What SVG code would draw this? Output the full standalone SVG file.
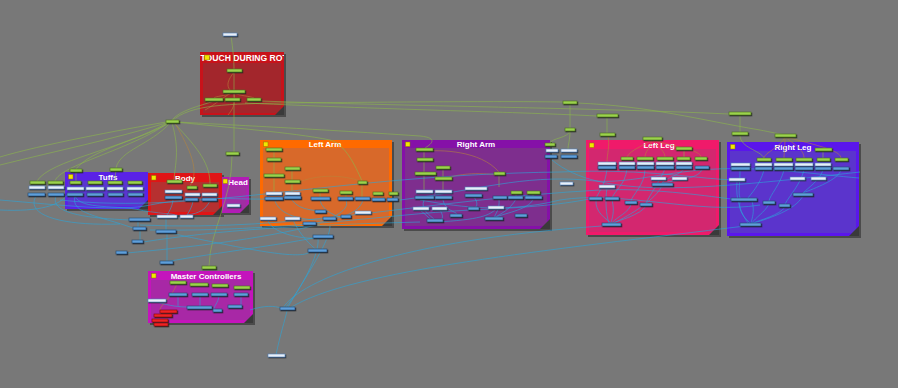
<svg xmlns="http://www.w3.org/2000/svg" width="898" height="388" viewBox="0 0 898 388">
<defs>
<style>
.bg{fill:#787878}
.shd{fill:#3c3c3c;opacity:.75}
.tri{fill:#3a3a3a}
.ysq{fill:#f2e600;stroke:#8a7a00;stroke-width:.5}
.ttl{font-family:"Liberation Sans",Arial,sans-serif;font-weight:bold;font-size:8px;fill:#fff;text-anchor:middle}
.g rect{fill:#9bd24d;stroke:#4a6e1a;stroke-width:.6}
.b rect{fill:#5e9fda;stroke:#24466e;stroke-width:.6}
.w rect{fill:#e9eff8;stroke:#4f7fb8;stroke-width:.6}
.r rect{fill:#f02222;stroke:#7a0a0a;stroke-width:.6}
.cg{fill:none;stroke:#8cb84a;stroke-width:.7;opacity:.85}
.cbr{fill:none;stroke:#b8843a;stroke-width:.7;opacity:.8}
.cb{fill:none;stroke:#2aa6da;stroke-width:.7;opacity:.85}
</style>
<filter id="ds" x="-10%" y="-10%" width="130%" height="140%"><feDropShadow dx="0.8" dy="1" stdDeviation="0" flood-color="#1e1e1e" flood-opacity="0.9"/></filter>
<clipPath id="ctouch"><rect x="200" y="52" width="84" height="11"/></clipPath>
</defs>
<rect class="bg" x="0" y="0" width="898" height="388"/>

<g id="frames">
<g id="f-touch">
<rect class="shd" x="202" y="54" width="84" height="63"/>
<rect x="200" y="52" width="84" height="63" fill="#c8121a"/>
<rect x="203" y="63" width="78" height="50" fill="#a3262c"/>
<polygon class="tri" points="284,106 284,115 275,115"/>
<text class="ttl" x="200.5" y="61" style="text-anchor:start;font-size:8.6px" clip-path="url(#ctouch)">TOUCH DURING ROT</text>
<rect class="ysq" x="204.5" y="55" width="5" height="5"/>
</g>
<g id="f-tuffs">
<rect class="shd" x="67" y="174" width="83" height="37"/>
<rect x="65" y="172" width="83" height="37" fill="#5a22e6"/>
<rect x="68" y="181" width="77" height="25" fill="#5a36cf"/>
<polygon class="tri" points="148,200 148,209 139,209"/>
<text class="ttl" x="108" y="180">Tuffs</text>
<rect class="ysq" x="68.5" y="174.5" width="4.5" height="4.5"/>
</g>
<g id="f-body">
<rect class="shd" x="150" y="175" width="74" height="42"/>
<rect x="148" y="173" width="74" height="42" fill="#e01416"/>
<rect x="151" y="182" width="68" height="30" fill="#b63030"/>
<polygon class="tri" points="222,206 222,215 213,215"/>
<text class="ttl" x="185" y="181">Body</text>
<rect class="ysq" x="151.5" y="175.5" width="4.5" height="4.5"/>
</g>
<g id="f-head">
<rect class="shd" x="224" y="179" width="27" height="36"/>
<rect x="222" y="177" width="27" height="36" fill="#b21cb6"/>
<rect x="224.5" y="186" width="22" height="24" fill="#a02ea2"/>
<polygon class="tri" points="249,204 249,213 240,213"/>
<text class="ttl" x="238" y="185">Head</text>
<rect class="ysq" x="223" y="179" width="4.5" height="4.5"/>
</g>
<g id="f-leftarm">
<rect class="shd" x="262" y="142" width="132" height="86"/>
<rect x="260" y="140" width="132" height="86" fill="#ff6a00"/>
<rect x="263" y="148" width="126" height="75.5" fill="#d8692a"/>
<polygon class="tri" points="392,216 392,226 382,226"/>
<text class="ttl" x="325" y="147">Left Arm</text>
<rect class="ysq" x="263.5" y="142" width="4.5" height="4.5"/>
</g>
<g id="f-rightarm">
<rect class="shd" x="404" y="142" width="148" height="89"/>
<rect x="402" y="140" width="148" height="89" fill="#8510a8"/>
<rect x="405" y="148" width="142" height="78" fill="#7e2e8e"/>
<polygon class="tri" points="550,219 550,229 540,229"/>
<text class="ttl" x="476" y="147">Right Arm</text>
<rect class="ysq" x="405.5" y="142" width="4.5" height="4.5"/>
</g>
<g id="f-leftleg">
<rect class="shd" x="588" y="142" width="133" height="95"/>
<rect x="586" y="140" width="133" height="95" fill="#f01a6a"/>
<rect x="589" y="149" width="127" height="83" fill="#d3276f"/>
<polygon class="tri" points="719,225 719,235 709,235"/>
<text class="ttl" x="659" y="147.5">Left Leg</text>
<rect class="ysq" x="589.5" y="143" width="4.5" height="4.5"/>
</g>
<g id="f-rightleg">
<rect class="shd" x="729" y="144" width="132" height="94"/>
<rect x="727" y="142" width="132" height="94" fill="#5a16ec"/>
<rect x="730" y="151" width="126" height="82" fill="#5b34cc"/>
<polygon class="tri" points="859,226 859,236 849,236"/>
<text class="ttl" x="793" y="149.5">Right Leg</text>
<rect class="ysq" x="730.5" y="144.5" width="4.5" height="4.5"/>
</g>
<g id="f-master">
<rect class="shd" x="150" y="273" width="105" height="52"/>
<rect x="148" y="271" width="105" height="52" fill="#c414bc"/>
<rect x="151" y="280" width="99" height="40" fill="#a828a6"/>
<polygon class="tri" points="253,314 253,323 244,323"/>
<text class="ttl" x="206" y="278.5">Master Controllers</text>
<rect class="ysq" x="151.5" y="273.5" width="4.5" height="4.5"/>
</g>
</g>

<g id="connectors">
<path class="cg" d="M231,36 C233,50 234,60 234,70"/>
<path class="cg" d="M234,73 V152"/>
<path class="cg" d="M232,156 C232,200 210,230 209,266"/>
<path class="cg" d="M172,121 C190,104 230,104 284,103 C400,102 500,101 563,102"/>
<path class="cg" d="M260,101 C400,106 600,108 729,114"/>
<path class="cg" d="M577,103 C650,106 700,120 760,130 C770,132 780,134 785,135"/>
<path class="cg" d="M245,103 C400,110 520,112 597,116"/>
<path class="cg" d="M166,122 C120,130 40,145 0,157"/>
<path class="cg" d="M166,123 C110,140 60,150 0,165"/>
<path class="cg" d="M167,123 C120,150 50,160 37,181"/>
<path class="cg" d="M168,123 C130,150 60,165 55,181"/>
<path class="cg" d="M169,123 C140,140 90,150 76,169"/>
<path class="cg" d="M170,123 C150,145 120,150 116,168"/>
<path class="cg" d="M172,123 C180,150 175,165 174,180"/>
<path class="cg" d="M174,123 C200,150 210,165 210,184"/>
<path class="cg" d="M176,122 C230,128 290,132 330,140 C345,144 355,165 362,181"/>
<path class="cg" d="M178,122 C230,125 300,128 420,136 C440,138 430,145 425,148"/>
<path class="cg" d="M172,120 C180,110 200,106 214,101"/>
<path class="cg" d="M76,172 C76,175 76,178 76,181"/>
<path class="cg" d="M116,171 C115,175 115,178 115,181"/>
<path class="cg" d="M570,104 V128"/>
<path class="cg" d="M570,131 C568,138 552,138 550,143"/>
<path class="cg" d="M570,131 C570,140 568,145 568,149"/>
<path class="cg" d="M607,117 V133"/>
<path class="cg" d="M740,115 V132"/>
<path class="cg" d="M740,135 C740,148 760,150 764,158"/>
<path class="cg" d="M823,151 V158"/>
<path class="cg" d="M684,150 V157"/>
<path class="cg" d="M274,151 V158 M274,161 V174 M292,170 V180 M292,183 V192 M274,177 V192 M320,192 V197 M346,194 V197 M362,184 V197"/>
<path class="cg" d="M424,151 V158 M424,161 V172 M443,169 V177 M443,180 V190 M424,175 V190 M499,175 V187 M516,194 V196 M533,194 V196"/>
<path class="cbr" d="M234,72 C228,80 226,85 230,90"/>
<path class="cbr" d="M232,93 C225,96 216,96 214,98"/>
<path class="cbr" d="M234,93 C240,96 250,96 254,98"/>
<path class="cbr" d="M234,93 C236,105 232,110 228,115"/>
<path class="cbr" d="M205,110 C215,105 225,95 234,92"/>
<path class="cbr" d="M652,140 C645,145 630,150 627,157"/>
<path class="cbr" d="M652,140 C650,148 645,152 645,157"/>
<path class="cbr" d="M652,140 C660,148 665,152 665,157"/>
<path class="cbr" d="M652,140 C680,148 700,150 701,157"/>
<path class="cbr" d="M608,136 C610,145 607,155 607,162"/>
<path class="cbr" d="M785,137 C780,148 765,152 764,158"/>
<path class="cbr" d="M785,137 C785,148 784,152 784,158"/>
<path class="cbr" d="M785,137 C800,148 804,152 804,158"/>
<path class="cbr" d="M785,137 C830,148 840,152 841,158"/>
<path class="cbr" d="M299,182 C330,170 360,180 365,183"/>
<path class="cbr" d="M443,179 C470,170 495,175 499,175"/>
<path class="cbr" d="M425,151 C440,150 480,150 499,172"/>
<path class="cbr" d="M175,123 C190,150 200,170 190,186"/>
<path class="cbr" d="M177,284 C170,300 160,305 160,310"/>
<path class="cb" d="M36,196 C25,215 60,226 120,224"/>
<path class="cb" d="M56,196 C50,212 80,218 130,220"/>
<path class="cb" d="M75,196 C70,214 100,216 133,228"/>
<path class="cb" d="M0,200 C60,205 120,212 150,205 C200,195 250,200 265,199"/>
<path class="cb" d="M60,200 C200,215 330,175 560,172 C650,168 700,180 740,180"/>
<path class="cb" d="M140,225 C300,232 420,200 600,190 C650,188 700,195 731,199"/>
<path class="cb" d="M150,230 C280,232 380,215 470,210 C520,208 560,205 589,199"/>
<path class="cb" d="M283,308 C300,280 400,240 602,226"/>
<path class="cb" d="M290,308 C350,270 550,250 745,226"/>
<path class="cb" d="M286,307 C300,290 320,255 318,238"/>
<path class="cb" d="M288,307 C310,270 330,240 330,226"/>
<path class="cb" d="M276,355 C280,335 285,320 287,311"/>
<path class="cb" d="M170,233 C250,250 300,260 310,252"/>
<path class="cb" d="M160,263 C200,255 280,245 313,238"/>
<path class="cb" d="M127,253 C180,248 260,240 320,224"/>
<path class="cb" d="M143,242 C220,230 300,225 420,222"/>
<path class="cb" d="M250,310 C265,305 275,306 281,308"/>
<path class="cb" d="M138,221 V228 M166,218 V230 M167,233 V262 M140,230 V240"/>
<path class="cb" d="M400,200 C480,190 520,175 586,180 C620,185 650,175 700,170 C760,165 820,175 859,178"/>
<path class="cb" d="M552,160 C600,200 700,190 860,172"/>
<path class="cb" d="M420,200 C450,205 500,215 560,200 C620,190 700,215 760,205"/>
<path class="cb" d="M275,201 C280,215 300,220 322,220"/>
<path class="cb" d="M292,200 C300,212 320,210 328,212"/>
<path class="cb" d="M320,200 C322,212 340,218 346,218"/>
<path class="cb" d="M346,200 C350,210 335,215 330,219"/>
<path class="cb" d="M363,200 C360,210 350,218 309,224"/>
<path class="cb" d="M268,220 C270,232 300,240 320,238"/>
<path class="cb" d="M293,220 C300,235 310,245 318,251"/>
<path class="cb" d="M424,200 C420,210 430,215 435,220"/>
<path class="cb" d="M443,200 C445,212 460,212 456,215"/>
<path class="cb" d="M474,197 C480,205 475,208 474,208"/>
<path class="cb" d="M499,199 C500,210 495,214 494,218"/>
<path class="cb" d="M516,199 C510,210 500,214 494,218"/>
<path class="cb" d="M533,199 C530,210 500,214 494,218"/>
<path class="cb" d="M420,210 C430,218 432,222 435,222"/>
<path class="cb" d="M440,210 C445,218 442,221 435,222"/>
<path class="cb" d="M496,209 C490,215 480,220 435,222"/>
<path class="cb" d="M607,169 C605,185 600,190 596,198"/>
<path class="cb" d="M627,169 C625,185 615,190 612,198"/>
<path class="cb" d="M645,169 C645,185 632,195 631,201"/>
<path class="cb" d="M665,169 C660,180 650,195 646,203"/>
<path class="cb" d="M684,169 C680,175 665,178 662,183"/>
<path class="cb" d="M702,169 C700,178 680,180 662,183"/>
<path class="cb" d="M596,200 C595,212 605,218 611,223"/>
<path class="cb" d="M612,200 C615,212 612,218 611,223"/>
<path class="cb" d="M631,204 C630,212 615,218 612,223"/>
<path class="cb" d="M646,206 C640,215 620,220 613,223"/>
<path class="cb" d="M662,186 C655,200 630,215 614,223"/>
<path class="cb" d="M607,188 C605,200 606,215 609,223"/>
<path class="cb" d="M740,170 C740,185 738,192 740,198"/>
<path class="cb" d="M764,170 C760,185 750,195 748,198"/>
<path class="cb" d="M784,170 C780,185 770,195 769,201"/>
<path class="cb" d="M804,170 C800,185 790,195 785,204"/>
<path class="cb" d="M823,170 C820,180 808,188 803,193"/>
<path class="cb" d="M841,170 C838,180 815,188 803,193"/>
<path class="cb" d="M740,201 C738,212 745,218 750,223"/>
<path class="cb" d="M752,201 C755,212 752,218 751,223"/>
<path class="cb" d="M769,204 C765,212 755,218 752,223"/>
<path class="cb" d="M785,207 C780,215 760,220 753,223"/>
<path class="cb" d="M803,196 C795,210 770,218 754,223"/>
<path class="cb" d="M737,181 C735,200 742,215 748,223"/>
<path class="cb" d="M178,296 V306 M200,296 V306 M219,296 C218,303 214,306 214,309 M241,296 V305"/>
<path class="cb" d="M157,302 C170,306 180,307 187,307"/>
<path class="cb" d="M0,210 C40,212 60,205 67,195"/>
<path class="cb" d="M173,200 C172,208 168,213 167,215"/>
<path class="cb" d="M193,201 C192,208 188,213 187,215"/>
<path class="cb" d="M210,201 C205,210 200,213 187,215"/>
<path class="cb" d="M75,196 C80,210 120,205 140,210 C160,214 170,213 175,215"/>
</g>

<g id="nodes" filter="url(#ds)">
<g id="n-top" class="w"><rect x="223" y="33" width="14" height="3"/></g>
<g id="n-bottom" class="w"><rect x="268" y="354" width="17" height="3"/></g>
<g id="t1" class="g"><rect x="227" y="69" width="15" height="3"/></g>
<g id="t2" class="g"><rect x="223" y="90" width="22" height="3"/></g>
<g id="t3" class="g"><rect x="205" y="98" width="18" height="3"/></g>
<g id="t4" class="g"><rect x="225" y="98" width="15" height="3"/></g>
<g id="t5" class="g"><rect x="247" y="98" width="14" height="3"/></g>
<g id="h1" class="g"><rect x="166" y="120" width="13" height="3"/></g>
<g id="h2" class="g"><rect x="226" y="152" width="13" height="3"/></g>
<g id="h3" class="g"><rect x="110" y="168" width="12" height="3"/></g>
<g id="h4" class="g"><rect x="70" y="169" width="12" height="3"/></g>
<g id="h5" class="g"><rect x="202" y="266" width="14" height="3"/></g>
<g id="r1" class="g"><rect x="563" y="101" width="14" height="3"/></g>
<g id="r2" class="g"><rect x="565" y="128" width="10" height="3"/></g>
<g id="r3" class="g"><rect x="597" y="114" width="21" height="3"/></g>
<g id="r4" class="g"><rect x="600" y="133" width="15" height="3"/></g>
<g id="r5" class="g"><rect x="643" y="137" width="19" height="3"/></g>
<g id="r6" class="g"><rect x="676" y="147" width="16" height="3"/></g>
<g id="r7" class="g"><rect x="729" y="112" width="22" height="3"/></g>
<g id="r8" class="g"><rect x="732" y="132" width="16" height="3"/></g>
<g id="r9" class="g"><rect x="775" y="134" width="21" height="3"/></g>
<g id="r10" class="g"><rect x="545" y="143" width="10" height="3"/></g>
<g id="l1" class="g"><rect x="30" y="181" width="15" height="3"/></g>
<g id="l2" class="g"><rect x="48" y="181" width="15" height="3"/></g>
<g id="l3" class="w"><rect x="29" y="186" width="16" height="3"/></g>
<g id="l4" class="w"><rect x="48" y="186" width="16" height="3"/></g>
<g id="l5" class="b"><rect x="28" y="193" width="17" height="3"/></g>
<g id="l6" class="b"><rect x="48" y="193" width="16" height="3"/></g>
<g id="tu1" class="g"><rect x="70" y="181" width="11" height="3"/></g>
<g id="tu2" class="g"><rect x="88" y="181" width="14" height="3"/></g>
<g id="tu3" class="g"><rect x="108" y="181" width="14" height="3"/></g>
<g id="tu4" class="g"><rect x="128" y="181" width="14" height="3"/></g>
<g id="tu5" class="w"><rect x="67" y="187" width="17" height="3"/></g>
<g id="tu6" class="w"><rect x="86" y="187" width="18" height="3"/></g>
<g id="tu7" class="w"><rect x="107" y="187" width="16" height="3"/></g>
<g id="tu8" class="w"><rect x="127" y="187" width="16" height="3"/></g>
<g id="tu9" class="b"><rect x="67" y="193" width="16" height="3"/></g>
<g id="tu10" class="b"><rect x="87" y="193" width="16" height="3"/></g>
<g id="tu11" class="b"><rect x="108" y="193" width="15" height="3"/></g>
<g id="tu12" class="b"><rect x="128" y="193" width="15" height="3"/></g>
<g id="bo1" class="g"><rect x="167" y="180" width="15" height="3"/></g>
<g id="bo2" class="g"><rect x="187" y="186" width="10" height="3"/></g>
<g id="bo3" class="g"><rect x="203" y="184" width="14" height="3"/></g>
<g id="bo4" class="w"><rect x="165" y="190" width="17" height="3"/></g>
<g id="bo5" class="w"><rect x="185" y="193" width="15" height="3"/></g>
<g id="bo6" class="w"><rect x="202" y="193" width="15" height="3"/></g>
<g id="bo7" class="b"><rect x="165" y="196" width="17" height="3"/></g>
<g id="bo8" class="b"><rect x="185" y="198" width="13" height="3"/></g>
<g id="bo9" class="b"><rect x="202" y="198" width="15" height="3"/></g>
<g id="bo10" class="w"><rect x="157" y="215" width="20" height="3"/></g>
<g id="bo11" class="w"><rect x="180" y="215" width="13" height="3"/></g>
<g id="he1" class="w"><rect x="227" y="204" width="13" height="3"/></g>
<g id="la1" class="g"><rect x="266" y="148" width="16" height="3"/></g>
<g id="la2" class="g"><rect x="267" y="158" width="14" height="3"/></g>
<g id="la3" class="g"><rect x="285" y="167" width="15" height="3"/></g>
<g id="la4" class="g"><rect x="264" y="174" width="20" height="3"/></g>
<g id="la5" class="g"><rect x="285" y="180" width="15" height="3"/></g>
<g id="la6" class="g"><rect x="358" y="181" width="9" height="3"/></g>
<g id="la7" class="g"><rect x="313" y="189" width="15" height="3"/></g>
<g id="la8" class="g"><rect x="340" y="191" width="12" height="3"/></g>
<g id="la9" class="g"><rect x="373" y="192" width="10" height="3"/></g>
<g id="la10" class="g"><rect x="389" y="192" width="9" height="3"/></g>
<g id="la11" class="w"><rect x="266" y="192" width="16" height="3"/></g>
<g id="la12" class="w"><rect x="285" y="192" width="15" height="3"/></g>
<g id="la13" class="b"><rect x="265" y="197" width="18" height="3"/></g>
<g id="la14" class="b"><rect x="284" y="196" width="17" height="3"/></g>
<g id="la15" class="b"><rect x="311" y="197" width="19" height="3"/></g>
<g id="la16" class="b"><rect x="338" y="197" width="15" height="3"/></g>
<g id="la17" class="b"><rect x="355" y="197" width="15" height="3"/></g>
<g id="la18" class="b"><rect x="372" y="198" width="13" height="3"/></g>
<g id="la19" class="b"><rect x="387" y="198" width="11" height="3"/></g>
<g id="la20" class="b"><rect x="315" y="210" width="11" height="3"/></g>
<g id="la21" class="w"><rect x="260" y="217" width="16" height="3"/></g>
<g id="la22" class="w"><rect x="285" y="217" width="15" height="3"/></g>
<g id="la23" class="b"><rect x="323" y="217" width="13" height="3"/></g>
<g id="la24" class="b"><rect x="341" y="215" width="10" height="3"/></g>
<g id="la25" class="w"><rect x="355" y="211" width="16" height="3"/></g>
<g id="la26" class="b"><rect x="303" y="222" width="13" height="3"/></g>
<g id="ra1" class="g"><rect x="416" y="148" width="17" height="3"/></g>
<g id="ra2" class="g"><rect x="417" y="158" width="16" height="3"/></g>
<g id="ra3" class="g"><rect x="436" y="166" width="14" height="3"/></g>
<g id="ra4" class="g"><rect x="415" y="172" width="21" height="3"/></g>
<g id="ra5" class="g"><rect x="435" y="177" width="17" height="3"/></g>
<g id="ra6" class="g"><rect x="494" y="172" width="11" height="3"/></g>
<g id="ra7" class="g"><rect x="511" y="191" width="11" height="3"/></g>
<g id="ra8" class="g"><rect x="527" y="191" width="13" height="3"/></g>
<g id="ra9" class="w"><rect x="416" y="190" width="17" height="3"/></g>
<g id="ra10" class="w"><rect x="435" y="190" width="17" height="3"/></g>
<g id="ra11" class="w"><rect x="465" y="187" width="22" height="3"/></g>
<g id="ra12" class="b"><rect x="415" y="196" width="19" height="3"/></g>
<g id="ra13" class="b"><rect x="435" y="196" width="17" height="3"/></g>
<g id="ra14" class="b"><rect x="465" y="194" width="17" height="3"/></g>
<g id="ra15" class="b"><rect x="493" y="196" width="14" height="3"/></g>
<g id="ra16" class="b"><rect x="508" y="196" width="15" height="3"/></g>
<g id="ra17" class="b"><rect x="525" y="196" width="17" height="3"/></g>
<g id="ra18" class="w"><rect x="413" y="207" width="16" height="3"/></g>
<g id="ra19" class="w"><rect x="432" y="207" width="15" height="3"/></g>
<g id="ra20" class="b"><rect x="468" y="207" width="11" height="3"/></g>
<g id="ra21" class="w"><rect x="488" y="206" width="16" height="3"/></g>
<g id="ra22" class="b"><rect x="450" y="214" width="12" height="3"/></g>
<g id="ra23" class="b"><rect x="485" y="217" width="18" height="3"/></g>
<g id="ra24" class="b"><rect x="515" y="214" width="12" height="3"/></g>
<g id="ra25" class="b"><rect x="427" y="219" width="16" height="3"/></g>
<g id="ro1" class="w"><rect x="546" y="149" width="12" height="3"/></g>
<g id="ro2" class="w"><rect x="561" y="149" width="16" height="3"/></g>
<g id="ro3" class="b"><rect x="545" y="155" width="12" height="3"/></g>
<g id="ro4" class="b"><rect x="561" y="155" width="16" height="3"/></g>
<g id="ro5" class="w"><rect x="560" y="182" width="13" height="3"/></g>
<g id="ll1" class="g"><rect x="621" y="157" width="12" height="3"/></g>
<g id="ll2" class="g"><rect x="637" y="157" width="16" height="3"/></g>
<g id="ll3" class="g"><rect x="657" y="157" width="16" height="3"/></g>
<g id="ll4" class="g"><rect x="677" y="157" width="13" height="3"/></g>
<g id="ll5" class="g"><rect x="695" y="157" width="12" height="3"/></g>
<g id="ll6" class="w"><rect x="598" y="162" width="18" height="3"/></g>
<g id="ll7" class="w"><rect x="619" y="162" width="16" height="3"/></g>
<g id="ll8" class="w"><rect x="637" y="162" width="17" height="3"/></g>
<g id="ll9" class="w"><rect x="656" y="162" width="18" height="3"/></g>
<g id="ll10" class="w"><rect x="676" y="162" width="16" height="3"/></g>
<g id="ll11" class="b"><rect x="598" y="166" width="18" height="3"/></g>
<g id="ll12" class="b"><rect x="619" y="166" width="16" height="3"/></g>
<g id="ll13" class="b"><rect x="637" y="166" width="17" height="3"/></g>
<g id="ll14" class="b"><rect x="656" y="166" width="18" height="3"/></g>
<g id="ll15" class="b"><rect x="676" y="166" width="16" height="3"/></g>
<g id="ll16" class="b"><rect x="695" y="166" width="14" height="3"/></g>
<g id="ll17" class="w"><rect x="651" y="177" width="15" height="3"/></g>
<g id="ll18" class="w"><rect x="672" y="177" width="15" height="3"/></g>
<g id="ll19" class="b"><rect x="652" y="183" width="21" height="3"/></g>
<g id="ll20" class="w"><rect x="599" y="185" width="16" height="3"/></g>
<g id="ll21" class="b"><rect x="589" y="197" width="13" height="3"/></g>
<g id="ll22" class="b"><rect x="605" y="197" width="14" height="3"/></g>
<g id="ll23" class="b"><rect x="625" y="201" width="12" height="3"/></g>
<g id="ll24" class="b"><rect x="640" y="203" width="12" height="3"/></g>
<g id="ll25" class="b"><rect x="602" y="223" width="19" height="3"/></g>
<g id="rl1" class="g"><rect x="815" y="148" width="17" height="3"/></g>
<g id="rl2" class="g"><rect x="757" y="158" width="14" height="3"/></g>
<g id="rl3" class="g"><rect x="776" y="158" width="16" height="3"/></g>
<g id="rl4" class="g"><rect x="796" y="158" width="16" height="3"/></g>
<g id="rl5" class="g"><rect x="817" y="158" width="13" height="3"/></g>
<g id="rl6" class="g"><rect x="835" y="158" width="13" height="3"/></g>
<g id="rl7" class="w"><rect x="731" y="163" width="19" height="3"/></g>
<g id="rl8" class="w"><rect x="755" y="163" width="17" height="3"/></g>
<g id="rl9" class="w"><rect x="774" y="163" width="19" height="3"/></g>
<g id="rl10" class="w"><rect x="795" y="163" width="18" height="3"/></g>
<g id="rl11" class="w"><rect x="815" y="163" width="16" height="3"/></g>
<g id="rl12" class="b"><rect x="731" y="167" width="19" height="3"/></g>
<g id="rl13" class="b"><rect x="755" y="167" width="17" height="3"/></g>
<g id="rl14" class="b"><rect x="774" y="167" width="19" height="3"/></g>
<g id="rl15" class="b"><rect x="795" y="167" width="18" height="3"/></g>
<g id="rl16" class="b"><rect x="815" y="167" width="16" height="3"/></g>
<g id="rl17" class="b"><rect x="833" y="167" width="16" height="3"/></g>
<g id="rl18" class="w"><rect x="729" y="178" width="16" height="3"/></g>
<g id="rl19" class="w"><rect x="790" y="177" width="15" height="3"/></g>
<g id="rl20" class="w"><rect x="811" y="177" width="15" height="3"/></g>
<g id="rl21" class="b"><rect x="793" y="193" width="20" height="3"/></g>
<g id="rl22" class="b"><rect x="731" y="198" width="26" height="3"/></g>
<g id="rl23" class="b"><rect x="763" y="201" width="12" height="3"/></g>
<g id="rl24" class="b"><rect x="779" y="204" width="11" height="3"/></g>
<g id="rl25" class="b"><rect x="740" y="223" width="21" height="3"/></g>
<g id="mc1" class="g"><rect x="170" y="281" width="16" height="3"/></g>
<g id="mc2" class="g"><rect x="190" y="283" width="18" height="3"/></g>
<g id="mc3" class="g"><rect x="212" y="284" width="16" height="3"/></g>
<g id="mc4" class="g"><rect x="234" y="286" width="16" height="3"/></g>
<g id="mc5" class="b"><rect x="169" y="293" width="18" height="3"/></g>
<g id="mc6" class="b"><rect x="192" y="293" width="16" height="3"/></g>
<g id="mc7" class="b"><rect x="211" y="293" width="16" height="3"/></g>
<g id="mc8" class="b"><rect x="234" y="293" width="14" height="3"/></g>
<g id="mc9" class="w"><rect x="148" y="299" width="18" height="3"/></g>
<g id="mc10" class="b"><rect x="187" y="306" width="25" height="3"/></g>
<g id="mc11" class="b"><rect x="213" y="309" width="9" height="3"/></g>
<g id="mc12" class="b"><rect x="228" y="305" width="14" height="3"/></g>
<g id="mc13" class="r"><rect x="160" y="310" width="17" height="3"/></g>
<g id="mc14" class="r"><rect x="154" y="314" width="18" height="3"/></g>
<g id="mc15" class="r"><rect x="152" y="319" width="16" height="3"/></g>
<g id="mc16" class="r"><rect x="154" y="323" width="14" height="3"/></g>
<g id="ob1" class="b"><rect x="129" y="218" width="21" height="3"/></g>
<g id="ob2" class="b"><rect x="133" y="227" width="13" height="3"/></g>
<g id="ob3" class="b"><rect x="156" y="230" width="20" height="3"/></g>
<g id="ob4" class="b"><rect x="132" y="240" width="11" height="3"/></g>
<g id="ob5" class="b"><rect x="116" y="251" width="11" height="3"/></g>
<g id="ob6" class="b"><rect x="160" y="261" width="13" height="3"/></g>
<g id="ob7" class="b"><rect x="313" y="235" width="20" height="3"/></g>
<g id="ob8" class="b"><rect x="308" y="249" width="19" height="3"/></g>
<g id="ob9" class="b"><rect x="280" y="307" width="15" height="3"/></g>
</g>
</svg>
